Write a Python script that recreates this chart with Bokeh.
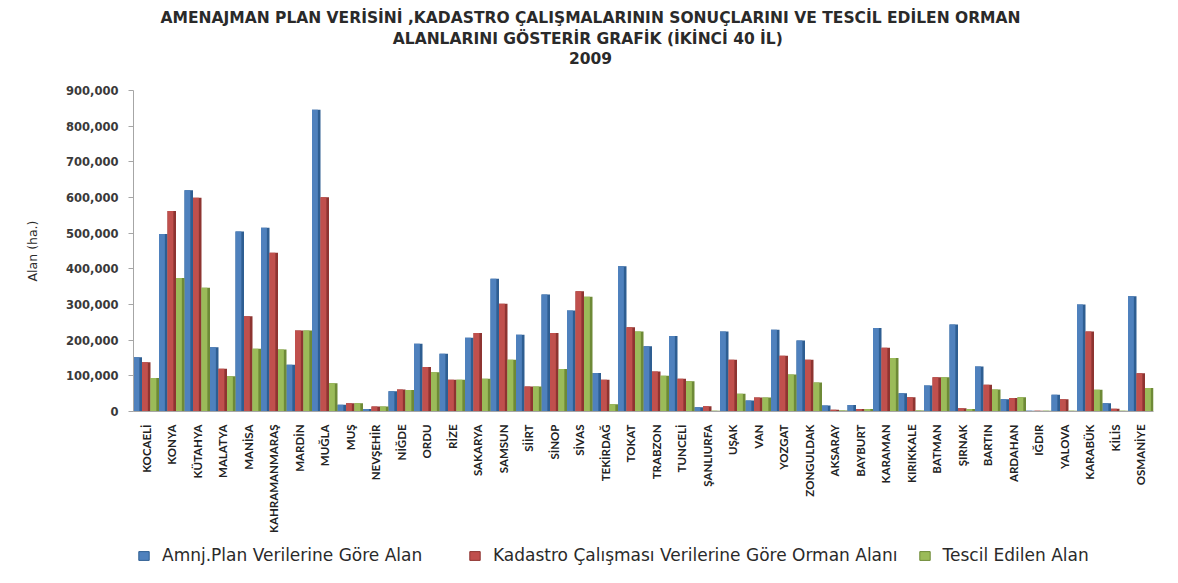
import math
import glob
from bokeh.plotting import figure
from bokeh.layouts import column
from bokeh.models import (FactorRange, Range1d, NumeralTickFormatter, Legend, Label,
                          LegendItem, ColumnDataSource, FixedTicker)
from bokeh.transform import dodge
from bokeh.embed import file_html
from bokeh.resources import INLINE

# ---------------- data ----------------
provinces = ["KOCAELİ", "KONYA", "KÜTAHYA", "MALATYA", "MANİSA", "KAHRAMANMARAŞ", "MARDİN",
             "MUĞLA", "MUŞ", "NEVŞEHİR", "NİĞDE", "ORDU", "RİZE", "SAKARYA", "SAMSUN", "SİİRT",
             "SİNOP", "SİVAS", "TEKİRDAĞ", "TOKAT", "TRABZON", "TUNCELİ", "ŞANLIURFA", "UŞAK",
             "VAN", "YOZGAT", "ZONGULDAK", "AKSARAY", "BAYBURT", "KARAMAN", "KIRIKKALE", "BATMAN",
             "ŞIRNAK", "BARTIN", "ARDAHAN", "IĞDIR", "YALOVA", "KARABÜK", "KİLİS", "OSMANİYE"]

amenajman = [152000, 498000, 620000, 180000, 505000, 515000, 131000, 846000, 19000, 7000,
             57000, 190000, 162000, 207000, 372000, 215000, 328000, 283000, 108000, 407000,
             183000, 212000, 12000, 224000, 31000, 229000, 199000, 17000, 18000, 234000,
             51000, 73000, 244000, 126000, 34000, 2000, 47000, 300000, 23000, 323000]

kadastro = [138000, 562000, 599000, 120000, 267000, 445000, 227000, 601000, 23000, 14000,
            62000, 125000, 89000, 220000, 302000, 70000, 220000, 337000, 89000, 236000,
            112000, 92000, 15000, 145000, 39000, 156000, 145000, 5000, 7000, 179000,
            40000, 96000, 9000, 75000, 38000, 2000, 34000, 224000, 8000, 107000]

tescil = [94000, 374000, 347000, 99000, 176000, 174000, 227000, 79000, 23000, 14000,
          60000, 110000, 89000, 92000, 145000, 70000, 119000, 322000, 20000, 224000,
          100000, 85000, 2000, 50000, 39000, 104000, 81000, 3000, 7000, 150000,
          3000, 96000, 7000, 62000, 40000, 2000, 2000, 61000, 2000, 66000]

series_names = ["Amnj.Plan Verilerine Göre Alan",
                "Kadastro Çalışması Verilerine Göre Orman Alanı",
                "Tescil Edilen Alan"]
y_ticks = [0, 100000, 200000, 300000, 400000, 500000, 600000, 700000, 800000, 900000]

title_lines = ["AMENAJMAN PLAN VERİSİNİ ,KADASTRO ÇALIŞMALARININ SONUÇLARINI VE TESCİL EDİLEN ORMAN",
               "ALANLARINI GÖSTERİR GRAFİK  (İKİNCİ 40 İL)",
               "2009"]

# ---------------- layout / styling ----------------
W = 1170
TOP_H = 80            # title strip
FRAME_L, FRAME_R = 133, 1153
FRAME_T, FRAME_B = 90, 411
MAIN_BOTTOM = 126     # room for the rotated province names
LEG_H = 575 - (FRAME_B + MAIN_BOTTOM)
TITLE_CX = 590
TITLE_Y = [17, 38, 57]         # centre of each title line (page pixels)
LEG_CY = 555
LEG_GLYPH_X = [137, 468, 918]
GLYPH_W, LEG_STANDOFF = 13, 12

face_colors = ["#4F81BD", "#C0504D", "#9BBB59"]
side_colors = ["#2E5E92", "#8E3431", "#6E8A37"]
FONT = "DejaVu Sans"


def text_width(txt, size, bold=False):
    name = "DejaVuSans-Bold.ttf" if bold else "DejaVuSans.ttf"
    try:
        from PIL import ImageFont
        path = glob.glob("/usr/share/fonts/**/" + name, recursive=True)[0]
        f = ImageFont.truetype(path, 200)
        return f.getlength(txt) * size / 200.0
    except Exception:
        return len(txt) * size * (0.68 if bold else 0.58)


title_size = max(12.0, min(15.5, 880.0 / text_width(title_lines[0], 1.0, bold=True)))
leg_size = max(12.0, min(17.0, 415.0 / text_width(series_names[1], 1.0)))
w2 = text_width(series_names[1], leg_size)
leg_spacing = max(6, int(round(LEG_GLYPH_X[2] - LEG_GLYPH_X[1] - GLYPH_W - LEG_STANDOFF - w2)))
leg_label_w = int(round(LEG_GLYPH_X[1] - LEG_GLYPH_X[0] - GLYPH_W - LEG_STANDOFF - leg_spacing))

# (in a column the plot frames are aligned, so every strip's frame starts at FRAME_L)

# ---------------- title strip ----------------
t = figure(width=W, height=TOP_H, x_range=Range1d(0, 1), y_range=Range1d(0, 1),
           output_backend="svg", toolbar_location=None,
           x_axis_location=None, y_axis_location=None,
           min_border=0, min_border_left=0, min_border_right=0,
           min_border_top=0, min_border_bottom=0)
t.outline_line_color = None
t.xgrid.visible = False
t.ygrid.visible = False
for txt, yy in zip(title_lines, TITLE_Y):
    t.add_layout(Label(x=TITLE_CX - FRAME_L, y=TOP_H - yy, x_units="screen", y_units="screen",
                       text=txt, text_align="center", text_baseline="middle",
                       text_font=FONT, text_font_style="bold",
                       text_font_size=f"{title_size:.2f}px", text_color="#2A2A2A"))

# ---------------- main chart ----------------
source = ColumnDataSource(dict(prov=provinces, a=amenajman, k=kadastro, t=tescil))

main_h = (FRAME_B - TOP_H) + MAIN_BOTTOM
p = figure(x_range=FactorRange(factors=provinces, range_padding=0),
           y_range=Range1d(0, 900000),
           width=W, height=main_h, output_backend="svg", toolbar_location=None,
           min_border_left=FRAME_L, min_border_right=W - FRAME_R,
           min_border_top=FRAME_T - TOP_H, min_border_bottom=MAIN_BOTTOM)

bw = 1.0 / 3.0
face_w = 0.23
for i, col in enumerate(["a", "k", "t"]):
    side_off = -bw + i * bw
    face_off = -0.5 + i * bw + face_w / 2
    p.vbar(x=dodge("prov", side_off, range=p.x_range), top=col, width=bw, source=source,
           fill_color=side_colors[i], line_color=None)
    p.vbar(x=dodge("prov", face_off, range=p.x_range), top=col, width=face_w, source=source,
           fill_color=face_colors[i], line_color=None)

p.xgrid.visible = False
p.ygrid.visible = False
p.outline_line_color = None

p.yaxis.ticker = FixedTicker(ticks=y_ticks)
p.yaxis.formatter = NumeralTickFormatter(format="0,0")
p.yaxis.major_label_text_font = FONT
p.yaxis.major_label_text_font_style = "bold"
p.yaxis.major_label_text_font_size = "11.5px"
p.yaxis.major_label_text_color = "#3A3A3A"
p.yaxis.axis_line_color = "#A6A6A6"
p.yaxis.major_tick_line_color = "#A6A6A6"
p.yaxis.major_tick_out = 5
p.yaxis.major_tick_in = 0
p.yaxis.minor_tick_line_color = None
p.yaxis.major_label_standoff = 10
p.yaxis.axis_label = "Alan (ha.)"
p.yaxis.axis_label_text_font = FONT
p.yaxis.axis_label_text_font_style = "normal"
p.yaxis.axis_label_text_font_size = "12.5px"
p.yaxis.axis_label_text_color = "#2A2A2A"
p.yaxis.axis_label_standoff = 23

p.xaxis.major_label_orientation = math.pi / 2
p.xaxis.major_label_text_font = "Lato"
p.xaxis.major_label_text_font_style = "bold"
p.xaxis.major_label_text_font_size = "11.5px"
p.xaxis.major_label_text_color = "#222222"
p.xaxis.major_tick_line_color = None
p.xaxis.minor_tick_line_color = None
p.xaxis.axis_line_color = "#A6A6A6"
p.xaxis.major_label_standoff = 7

# ---------------- legend strip ----------------
lg = figure(width=W, height=LEG_H, x_range=p.x_range, y_range=p.y_range,
            output_backend="svg", toolbar_location=None,
            x_axis_location=None, y_axis_location=None,
            min_border=0, min_border_left=0, min_border_right=0,
            min_border_top=0, min_border_bottom=0)
lg.outline_line_color = None
lg.xgrid.visible = False
lg.ygrid.visible = False
items = []
for i, (col, name) in enumerate(zip(["a", "k", "t"], series_names)):
    r = lg.vbar(x="prov", top=col, width=0.3, source=source, visible=False,
                fill_color=face_colors[i], line_color=side_colors[i])
    items.append(LegendItem(label=name, renderers=[r]))
leg_h = 20
legend = Legend(items=items, orientation="horizontal",
                location=(LEG_GLYPH_X[0] - FRAME_L,
                          LEG_H - (LEG_CY - (FRAME_B + MAIN_BOTTOM)) - leg_h / 2),
                padding=0, margin=0, spacing=leg_spacing, label_standoff=LEG_STANDOFF,
                glyph_width=GLYPH_W, glyph_height=11, label_height=leg_h,
                label_width=leg_label_w,
                label_text_font=FONT, label_text_font_size=f"{leg_size:.2f}px",
                label_text_color="#2A2A2A",
                inactive_fill_alpha=0,
                background_fill_alpha=0, border_line_color=None)
lg.add_layout(legend, "center")

page = column(t, p, lg, spacing=0)
open("out.html", "w").write(file_html(page, INLINE))
